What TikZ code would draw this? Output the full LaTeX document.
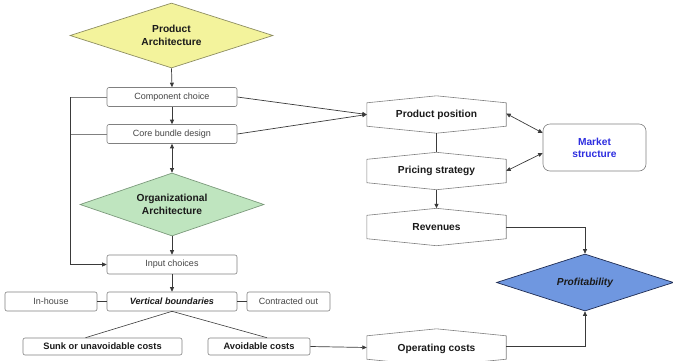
\documentclass[tikz,border=0pt]{standalone}
\usepackage{fontspec}
\setmainfont{Liberation Sans}
\usetikzlibrary{shapes.geometric,arrows.meta,calc}

\definecolor{frame}{HTML}{808080}
\definecolor{wire}{HTML}{3A3A3A}
\definecolor{softtext}{HTML}{454545}
\definecolor{boldtext}{HTML}{1A1A1A}
\definecolor{yellowfill}{HTML}{F3F39C}
\definecolor{yellowedge}{HTML}{8E8E62}
\definecolor{greenfill}{HTML}{BFE5BF}
\definecolor{greenedge}{HTML}{7C9A7C}
\definecolor{bluefill}{HTML}{6F97E0}
\definecolor{blueedge}{HTML}{1E2B52}
\definecolor{marketblue}{HTML}{2E2EE0}

\tikzset{
  box/.style={draw=frame, fill=white, rounded corners=2pt, line width=0.6pt,
    minimum width=130pt, minimum height=19pt, inner sep=0pt,
    font=\fontsize{9}{10}\selectfont, text=softtext},
  boldbox/.style={box, minimum height=17pt,
    font=\bfseries\fontsize{9.3}{10}\selectfont, text=boldtext},
  hexnode/.style={minimum width=139pt, minimum height=37pt, inner sep=0pt,
    font=\bfseries\fontsize{10.2}{12}\selectfont, text=boldtext},
  hexline/.style={draw=frame, line width=0.6pt, fill=white},
  decision/.style={diamond, shape aspect=3, inner sep=0pt, align=center,
    line width=0.7pt, font=\bfseries\fontsize{10.2}{13}\selectfont, text=boldtext},
  arr/.style={draw=wire, line width=0.7pt, -{Triangle[length=4.5pt,width=4pt]}},
  dblarr/.style={draw=wire, line width=0.7pt,
    {Triangle[length=4.5pt,width=4pt]}-{Triangle[length=4.5pt,width=4pt]}},
  plain/.style={draw=wire, line width=0.6pt},
  rail/.style={draw=frame, line width=0.7pt},
}

% pointed top and bottom outline around a hexnode
\newcommand\hexoutline[1]{%
  \path[hexline] ($(#1.north west)+(0,7)$) -- (#1.north) -- ($(#1.north east)+(0,7)$)
    -- ($(#1.south east)+(0,-7)$) -- (#1.south) -- ($(#1.south west)+(0,-7)$) -- cycle;}

\begin{document}
\begin{tikzpicture}[x=1pt,y=-1pt]
\useasboundingbox (0,0) rectangle (673,360);
\clip (0,0) rectangle (673,360);

% left column
\node[decision, fill=yellowfill, draw=yellowedge, minimum width=203pt, minimum height=65pt]
  (pa) at (171.5,35.5) {Product\\Architecture};
\node[box] (cc) at (172,97) {Component choice};
\node[box] (cb) at (172,134) {Core bundle design};
\node[decision, fill=greenfill, draw=greenedge, minimum width=184pt, minimum height=63pt]
  (oa) at (172,204.5) {Organizational\\Architecture};
\node[box] (ic) at (172,264.5) {Input choices};
\node[boldbox, minimum height=19pt, font=\bfseries\itshape\fontsize{9.1}{10}\selectfont]
  (vb) at (172,301.5) {Vertical boundaries};
\node[box, minimum width=92pt] (ih) at (51,301.5) {In-house};
\node[box, minimum width=83pt] (co) at (288.5,301.5) {Contracted out};
\node[boldbox, minimum width=159pt] (sk) at (102.5,346.5) {Sunk or unavoidable costs};
\node[boldbox, minimum width=102pt] (av) at (259,346.5) {Avoidable costs};

% right column
\node[hexnode] (pp) at (436.5,114.5) {};
\node[hexnode] (ps) at (436.5,171) {};
\node[hexnode] (rv) at (436.5,227) {};
\node[hexnode] (oc) at (436.5,347.5) {};
\hexoutline{pp}\hexoutline{ps}\hexoutline{rv}\hexoutline{oc}
\node[hexnode] at (pp) {Product position};
\node[hexnode] at (ps) {Pricing strategy};
\node[hexnode] at (rv) {Revenues};
\node[hexnode] at ([yshift=-1pt]oc.center) {Operating costs};

\node[draw=frame, fill=white, rounded corners=7pt, line width=0.6pt,
  minimum width=103pt, minimum height=47pt, inner sep=0pt, align=center,
  font=\bfseries\fontsize{10.2}{12.3}\selectfont, text=marketblue]
  (ms) at (594.5,147.5) {Market\\structure};
\node[decision, fill=bluefill, draw=blueedge, minimum width=177pt, minimum height=57pt,
  font=\bfseries\itshape\fontsize{10.2}{12}\selectfont]
  (pf) at (585,282.5) {Profitability};

% vertical flow on the left
\draw[arr] (pa.south) -- (cc.north);
\draw[arr] (cc.south) -- (cb.north);
\draw[dblarr] (cb.south) -- (oa.north);
\draw[arr] (oa.south) -- (ic.north);
\draw[arr] (ic.south) -- (vb.north);

% rail feeding input choices
\coordinate (railtop) at (70,97);
\draw[rail] (cc.west) -- (railtop);
\draw[rail] (cb.west) -- (cb.west -| railtop);
\draw[arr] (railtop) |- (ic.west);

% vertical boundaries and its options
\draw[plain] (ih.east) -- (vb.west);
\draw[plain] (co.west) -- (vb.east);
\draw[plain] (vb.south) -- ([xshift=-17pt]sk.north);
\draw[plain] (vb.south) -- ([xshift=8pt]av.north);
\draw[arr] (av.east) -- (oc.west);

% product architecture into positioning
\draw[arr] (cc.east) -- (pp.west);
\draw[arr] (cb.east) -- (pp.west);
\draw[plain] (pp.south) -- (ps.north);
\draw[dblarr] ([yshift=1pt]pp.east) -- ($(ms.west)+(0,-14.5)$);
\draw[dblarr] (ps.east) -- ($(ms.west)+(0,5.5)$);
\draw[arr] (ps.south) -- (rv.north);

% into profitability
\draw[arr] (rv.east) -| (pf.north);
\draw[arr] ([yshift=1pt]oc.east) -| (pf.south);
\end{tikzpicture}
\end{document}
